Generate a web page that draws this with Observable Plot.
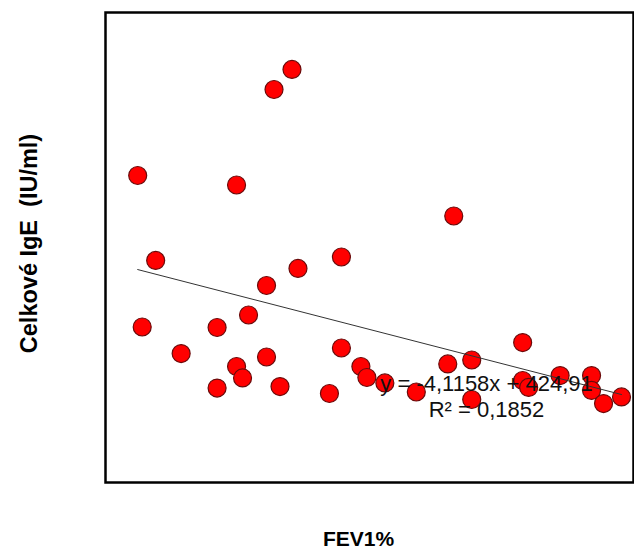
<!DOCTYPE html>
<html>
<head>
<meta charset="utf-8">
<script src="https://cdn.jsdelivr.net/npm/d3@7"></script>
<script src="https://cdn.jsdelivr.net/npm/@observablehq/plot@0.6"></script>
<style>
  html, body { margin: 0; padding: 0; background: #fff; }
  #chart { width: 634px; height: 550px; }
</style>
</head>
<body>
<div id="chart"></div>
<script>
// FEV1% values (x) and total IgE (IU/ml) values (y)
const fev1 = [48.2, 49.4, 48.5, 51.1, 53.5, 53.5, 54.8, 54.8, 55.2, 55.6,
              56.8, 56.8, 57.3, 57.7, 58.5, 58.9, 61.0, 61.8, 61.8, 63.1,
              63.5, 64.7, 66.8, 68.9, 69.3, 70.5, 70.5, 73.9, 73.9, 74.3,
              76.4, 78.5, 78.5, 79.3, 80.5];
const ige  = [326.6, 236.2, 165.4, 137.2, 164.9, 100.5, 316.5, 123.4, 111.2, 178.2,
              209.6, 133.5, 418.1, 102.1, 439.4, 227.7, 94.7, 239.9, 143.1, 123.4,
              111.7, 105.9, 96.3, 126.1, 283.5, 130.3, 88.3, 148.9, 108.5, 101.1,
              113.8, 113.8, 97.9, 84.0, 91.0];
// Linear trend line reported on the chart
const trendSlope = -4.1158;
const trendIntercept = 424.91;
const trendLabels = ["y = -4,1158x + 424,91", "R² = 0,1852"];
const xTitle = "FEV1%";
const yTitle = "Celkové IgE  (IU/ml)";

const points = fev1.map((x, i) => ({x, y: ige[i]}));
const xMin = d3.min(fev1), xMax = d3.max(fev1);
const trend = [xMin, xMax].map(x => ({x, y: trendSlope * x + trendIntercept}));

const font = "'Liberation Sans', Arial, Helvetica, sans-serif";

const chart = Plot.plot({
  width: 634,
  height: 550,
  marginLeft: 105,
  marginRight: 1,
  marginTop: 12,
  marginBottom: 68,
  style: {fontFamily: font, background: "#fff", overflow: "visible"},
  x: {domain: [46.05, 81.3], axis: null},
  y: {domain: [0, 500], axis: null},
  marks: [
    Plot.dot(points, {x: "x", y: "y", r: 9, fill: "#ff0000", stroke: "#6a0a0a", strokeWidth: 1.2}),
    Plot.line(trend, {x: "x", y: "y", stroke: "#333", strokeWidth: 1}),
    Plot.text([trendLabels[0]], {frameAnchor: "bottom-right", text: d => d, dx: -147, dy: -99,
      textAnchor: "middle", lineAnchor: "middle", fontSize: 22, fill: "#111"}),
    Plot.text([trendLabels[1]], {frameAnchor: "bottom-right", text: d => d, dx: -147, dy: -73,
      textAnchor: "middle", lineAnchor: "middle", fontSize: 22, fill: "#111"}),
    Plot.frame({stroke: "#000", strokeWidth: 2.5}),
    Plot.text([xTitle], {frameAnchor: "bottom", text: d => d, dx: -11, dy: 57,
      textAnchor: "middle", lineAnchor: "middle", fontSize: 21, fontWeight: "bold", fill: "#000"}),
    Plot.text([yTitle], {frameAnchor: "left", text: d => d, dx: -76, dy: -4, rotate: -90,
      textAnchor: "middle", lineAnchor: "middle", fontSize: 23.5, fontWeight: "bold", fill: "#000"})
  ]
});
document.getElementById("chart").append(chart);
</script>
</body>
</html>
